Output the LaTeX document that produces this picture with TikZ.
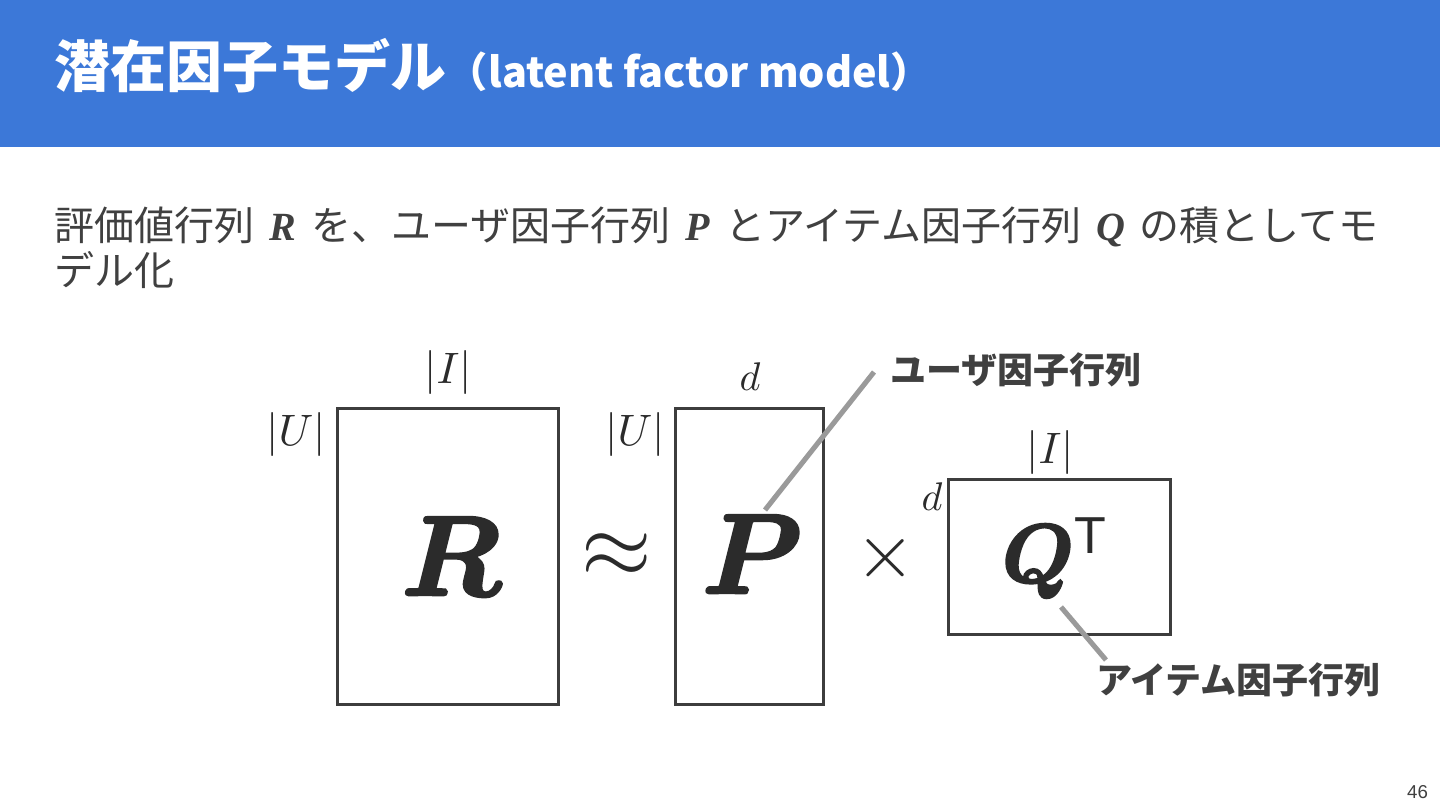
\documentclass[tikz,border=0pt]{standalone}
\usepackage{amsmath}
\usepackage{graphicx}
\usepackage{fontspec}
\newfontfamily\jp{Noto Sans CJK JP}
\newfontfamily\lserif{Liberation Serif}
\newfontfamily\lsans{Liberation Sans}
\font\bigbf=cmmib10 at 85pt
\font\midbf=cmmib10 at 62pt
\definecolor{hdr}{HTML}{3C78D8}
\definecolor{txt}{HTML}{404040}
\definecolor{boxc}{HTML}{3D3D3D}
\definecolor{callc}{HTML}{9A9A9A}
\definecolor{mathc}{HTML}{2B2B2B}
\tikzset{
  every node/.style={inner sep=0pt, outer sep=0pt},
  mbox/.style={draw=boxc, line width=2.25pt, fill=none},
  callout/.style={draw=callc, line width=3.8pt},
  lbl/.style={text=txt},
}
\newcommand{\jsz}[1]{\fontsize{#1}{#1}\selectfont}
\newcommand{\mth}[2]{\scalebox{#1}{\fontsize{10}{12}\selectfont$#2$}}
\newcommand{\heavy}[2]{\special{pdf:literal direct 2 Tr #1 w}#2\special{pdf:literal direct 0 Tr}}
\newcommand{\bi}[1]{\hspace{4.5pt}{\lserif\bfseries\itshape #1}\hspace{4.5pt}}
\begin{document}
\begin{tikzpicture}[x=0.75pt, y=-0.75pt]
\useasboundingbox (0,0) rectangle (1440,810);
\fill[white] (0,0) rectangle (1440,810);
\fill[hdr] (0,0) rectangle (1440,147);
% title
\node[anchor=base west, text=white] (title) at (55,87)
  {\jsz{42}\jp\bfseries 潜在因子モデル{\jsz{31}（latent factor model）}};
% body
\node[anchor=base west, lbl] (body1) at (55,240)
  {\jsz{30}\jp 評価値行列 \bi{R} を、ユーザ因子行列 \bi{P} とアイテム因子行列 \bi{Q} の積としてモ};
\node[anchor=base west, lbl] (body2) at (55,285)
  {\jsz{30}\jp デル化};
% boxes
\node[mbox, minimum width=165.75pt, minimum height=222pt] (Rbox) at (447.5,556) {};
\node[mbox, minimum width=111pt, minimum height=222pt] (Pbox) at (749,556) {};
\node[mbox, minimum width=166.5pt, minimum height=116.25pt] (Qbox) at (1059,556.5) {};
% dimension labels
\node[text=mathc] (RI) at (448,372) {\mth{3.3}{|I|}};
\node[text=mathc] (RU) at (296,434) {\mth{3.3}{|U|}};
\node[text=mathc] (PU) at (635,434) {\mth{3.3}{|U|}};
\node[text=mathc, anchor=base] (Pd) at (750,390) {\mth{3.0}{d}};
\node[text=mathc] (QI) at (1050,452) {\mth{3.3}{|I|}};
\node[text=mathc, anchor=base] (Qd) at (932,510) {\mth{3.0}{d}};
% matrices
\node[text=mathc, anchor=base] (R) at (451,595) {\heavy{2.2}{\bigbf R}};
\node[text=mathc, anchor=base] (P) at (743,593) {\heavy{2.2}{\bigbf P}};
\node[text=mathc] (approx) at (617,556) {\mth{6.8}{\approx}};
\node[text=mathc] (times) at (886,558) {\mth{5.8}{\times}};
\node[text=mathc, anchor=base] (Q) at (1038,582) {\heavy{1.8}{\midbf Q}};
\node[text=mathc, anchor=base] (QT) at (1090,553) {\jsz{39}\lsans T};
% callouts
\node[anchor=base west, lbl] (ulabel) at (890,383) {\jsz{27}\jp\bfseries ユーザ因子行列};
\node[anchor=base west, lbl] (ilabel) at (1096,693) {\jsz{27}\jp\bfseries アイテム因子行列};
\coordinate (pA) at (765,510);
\coordinate (pB) at (874,372);
\coordinate (qA) at (1061,607);
\coordinate (qB) at (1106,660);
\draw[callout] (pA) -- (pB);
\draw[callout] (qA) -- (qB);
% page number
\node[anchor=base east, text=txt] (pnum) at (1428,798) {\jsz{14}\lsans 46};
\end{tikzpicture}
\end{document}
